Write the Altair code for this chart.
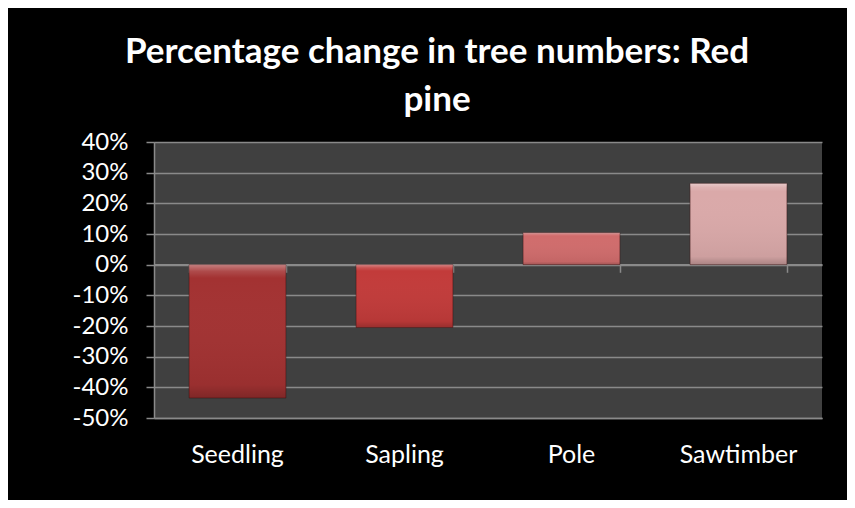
import altair as alt
import pandas as pd

categories = ["Seedling", "Sapling", "Pole", "Sawtimber"]
changes = [-0.435, -0.205, 0.104, 0.265]
bar_colors = ["#A33232", "#C23B3A", "#D06C6C", "#DAA9A9"]
y_ticks = [-0.5, -0.4, -0.3, -0.2, -0.1, 0.0, 0.1, 0.2, 0.3, 0.4]
title_lines = ["Percentage change in tree numbers: Red", "pine"]

df = pd.DataFrame({"category": categories, "change": changes})

FONT = "Lato"
GRAY = "#8A8A8A"

x_scale = alt.Scale(domain=categories, paddingInner=0.42, paddingOuter=0.21)
y_scale = alt.Scale(domain=[-0.5, 0.4], nice=False, zero=False)

label_expr = "datum.value < 0 ? '-' + format(-datum.value, '.0%') : format(datum.value, '.0%')"

y_axis = alt.Axis(values=y_ticks, labelExpr=label_expr, grid=True, gridColor=GRAY,
                  gridWidth=1.5, domain=True, domainColor=GRAY, domainWidth=1.5,
                  tickSize=8, tickColor=GRAY, tickWidth=1.5, labelColor="white",
                  labelFont=FONT, labelFontSize=24, labelPadding=18)

bars = alt.Chart(df).mark_bar(stroke="#3a1010", strokeWidth=0.8, strokeOpacity=0.6).encode(
    x=alt.X("category:N", scale=x_scale, sort=categories, title=None,
            axis=alt.Axis(orient="bottom", labelAngle=0, ticks=False, domain=True,
                          domainColor=GRAY, domainWidth=1.5, labelColor="white",
                          labelFont=FONT, labelFontSize=25, labelBaseline="alphabetic",
                          labelPadding=44, grid=False)),
    y=alt.Y("change:Q", scale=y_scale, title=None, axis=y_axis),
    color=alt.Color("category:N", scale=alt.Scale(domain=categories, range=bar_colors), legend=None),
)

shade = alt.Gradient(
    gradient="linear", x1=0, x2=0, y1=0, y2=1,
    stops=[
        alt.GradientStop(color="rgba(255,255,255,0.38)", offset=0),
        alt.GradientStop(color="rgba(255,255,255,0.12)", offset=0.05),
        alt.GradientStop(color="rgba(255,255,255,0.0)", offset=0.1),
        alt.GradientStop(color="rgba(0,0,0,0.06)", offset=0.9),
        alt.GradientStop(color="rgba(0,0,0,0.22)", offset=1),
    ],
)

overlay = alt.Chart(df).mark_bar(color=shade).encode(
    x=alt.X("category:N", scale=x_scale, sort=categories, title=None,
            axis=alt.Axis(orient="bottom", offset=-153.7, labels=False, ticks=True,
                          tickBand="extent", tickSize=8, tickColor=GRAY, tickWidth=1.5,
                          domain=True, domainColor=GRAY, domainWidth=1.5, grid=False)),
    y=alt.Y("change:Q", scale=y_scale, title=None, axis=y_axis),
)

chart = alt.layer(bars, overlay).resolve_axis(x="independent").properties(
    width=668,
    height=276,
    background="#000000",
    autosize=alt.AutoSizeParams(type="none"),
    padding={"left": 146, "top": 134, "right": 25, "bottom": 82},
    title=alt.TitleParams(text=title_lines, color="white", font=FONT, fontSize=35,
                          fontWeight="bold", anchor="middle", dx=-51, dy=17,
                          baseline="alphabetic", lineHeight=48, offset=1),
).configure_view(fill="#404040", stroke=None)

chart.save("out.html", embed_options={"renderer": "svg", "actions": False})
